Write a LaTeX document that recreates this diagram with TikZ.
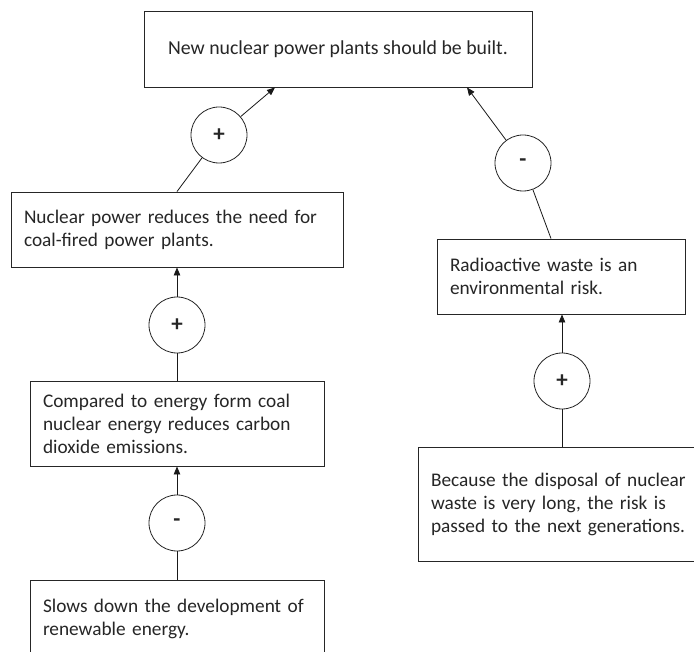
\documentclass[tikz,border=0pt]{standalone}
\usepackage{fontspec}
\setmainfont{Carlito}
\usetikzlibrary{arrows.meta}
\begin{document}
\begin{tikzpicture}[x=1pt,y=-1pt,
  every node/.style={font=\fontsize{19.3}{23}\selectfont, text=black!85},
  argbox/.style={draw=black!85, line width=0.9pt, rectangle, inner xsep=13pt, inner ysep=0pt, align=left},
  sign/.style={draw=black!85, line width=0.8pt, circle, minimum size=56pt, inner sep=0pt, font=\fontsize{23}{23}\selectfont\bfseries},
  conn/.style={draw=black!90, line width=0.8pt},
  arr/.style={conn, -{Triangle[length=8pt,width=6.5pt]}}
]
\clip (0,0) rectangle (694,652);
\fill[white] (0,0) rectangle (694,652);

\node[argbox, align=center, minimum width=388pt, minimum height=76pt, font=\fontsize{19.8}{23}\selectfont] (top) at (338,49) {New nuclear power plants should be built.};
\node[argbox, text width=306pt, minimum height=75pt] (b2) at (177,229.5) {Nuclear power reduces the need for\\coal-fired power plants.};
\node[argbox, text width=222pt, minimum height=75pt] (b3) at (561,276.5) {Radioactive waste is an\\environmental risk.};
\node[argbox, text width=262pt, minimum height=114pt] (b4) at (562,504) {Because the disposal of nuclear\\waste is very long, the risk is\\passed to the next generations.};
\node[argbox, text width=268pt, minimum height=85pt] (b5) at (177,423.5) {Compared to energy form coal\\nuclear energy reduces carbon\\dioxide emissions.};
\node[argbox, text width=268pt, minimum height=77pt] (b6) at (177,618.5) {Slows down the development of\\renewable energy.};

\node[sign] (c1) at (219,135) {+};
\node[sign] (c2) at (523,163) {-};
\node[sign] (c3) at (177,325) {+};
\node[sign] (c4) at (562,381) {+};
\node[sign] (c5) at (177,523) {-};

\draw[arr] (c1) -- ([xshift=-63pt]top.south);
\draw[conn] (b2.north) -- (c1);
\draw[arr] (c2) -- ([xshift=129pt]top.south);
\draw[conn] ([xshift=-10pt]b3.north) -- (c2);
\draw[arr] (c3) -- (b2.south);
\draw[conn] (b5.north) -- (c3);
\draw[arr] (c4) -- ([xshift=1pt]b3.south);
\draw[conn] (b4.north) -- (c4);
\draw[arr] (c5) -- (b5.south);
\draw[conn] (b6.north) -- (c5);
\end{tikzpicture}
\end{document}
